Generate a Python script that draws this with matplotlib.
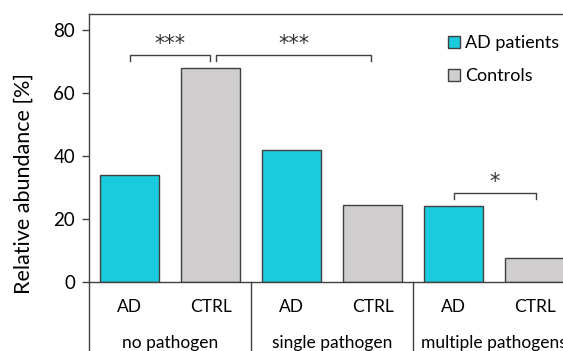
import matplotlib
matplotlib.use("Agg")
import matplotlib.pyplot as plt
from matplotlib.patches import Patch
import matplotlib.transforms as mtransforms

plt.rcParams['font.family'] = ['Lato', 'DejaVu Sans']

groups = ["no pathogen", "single pathogen", "multiple pathogens"]
subs = ["AD", "CTRL"]
ad_vals = [34, 42, 24]
ctrl_vals = [68, 24.5, 7.5]
series_names = ["AD patients", "Controls"]
yticks = [0, 20, 40, 60, 80]

c_ad = "#1ACBDD"
c_ctrl = "#D0CECF"
edge = "#404040"

W, H = 563, 351
fig = plt.figure(figsize=(W/100, H/100), dpi=100)
ax = fig.add_axes([89/W, (H-282)/H, (W-89)/W, (282-14)/H])

xs_ad = [2*i for i in range(3)]
xs_ctrl = [2*i+1 for i in range(3)]
bw = 0.72
ax.bar(xs_ad, ad_vals, width=bw, color=c_ad, edgecolor=edge, linewidth=1.0, label=series_names[0])
ax.bar(xs_ctrl, ctrl_vals, width=bw, color=c_ctrl, edgecolor=edge, linewidth=1.0, label=series_names[1])

ax.set_xlim(-0.5, 5.35)
ax.set_ylim(0, 85)
ax.set_yticks(yticks)
ax.set_xticks([])
ax.tick_params(axis='y', direction='out', length=5, width=1, color=edge, labelsize=13.5, pad=5)
ax.spines['right'].set_visible(False)
for s in ['left', 'top', 'bottom']:
    ax.spines[s].set_color(edge)
    ax.spines[s].set_linewidth(1)
fig.text(24/W, 1 - 184/H, "Relative abundance [%]", rotation=90, ha='center', va='center', fontsize=15.5)

trans = mtransforms.blended_transform_factory(ax.transData, ax.transAxes)
for xv in [-0.5, 1.5, 3.5]:
    ax.plot([xv, xv], [0, -0.3], transform=trans, color=edge, lw=1, clip_on=False)
for i in range(6):
    ax.text(i, -0.093, subs[i % 2], transform=trans, ha='center', va='center', fontsize=12.5)
for g in range(3):
    ax.text(2*g + 0.5, -0.228, groups[g], transform=trans, ha='center', va='center', fontsize=12.5)

def yv(px):
    return (282 - px) / (268/85)

def bracket(x1, x2, y, tip, star, sy):
    ax.plot([x1, x1, x2, x2], [y - tip, y, y, y - tip], color=edge, lw=1, clip_on=False)
    ax.text((x1 + x2) / 2, sy, star, ha='center', va='center', fontsize=15, color='#333333',
            family='DejaVu Sans')

bracket(0, 0.99, yv(55), 1.8, "***", yv(44))
bracket(1.07, 2.98, yv(55), 1.8, "***", yv(44))
bracket(4, 5.02, yv(193), 1.8, "*", yv(182))

handles = [Patch(facecolor=c_ad, edgecolor=edge, label=series_names[0]),
           Patch(facecolor=c_ctrl, edgecolor=edge, label=series_names[1])]
leg = ax.legend(handles=handles, loc='upper left', bbox_to_anchor=(448/W, 1 - 35/H), bbox_transform=fig.transFigure,
                frameon=False, fontsize=13, handlelength=0.65, handleheight=0.65, handletextpad=0.3,
                labelspacing=0.95, borderaxespad=0, borderpad=0)

fig.savefig("out.png", dpi=100)
